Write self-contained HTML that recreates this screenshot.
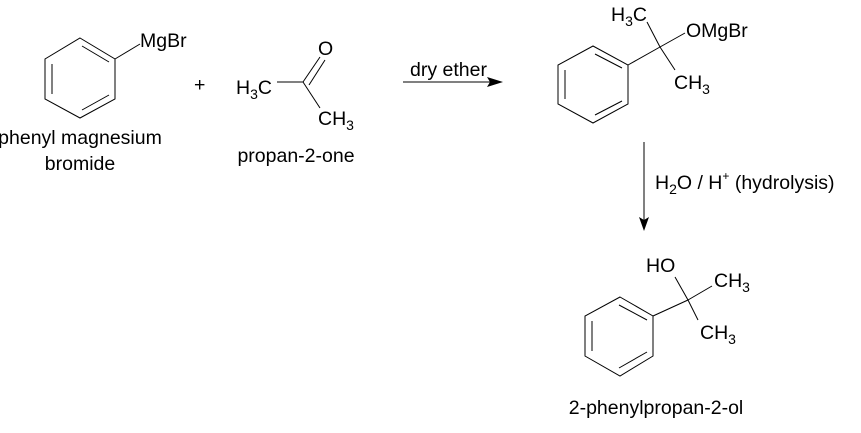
<!DOCTYPE html>
<html><head><meta charset="utf-8"><style>
html,body{margin:0;padding:0;background:#fff;}
svg{display:block;}
text{font-family:"Liberation Sans",Arial,sans-serif;font-size:19.5px;fill:#000;}
</style></head><body>
<svg width="861" height="433" viewBox="0 0 861 433" xmlns="http://www.w3.org/2000/svg">
<g stroke="#000" stroke-width="1" fill="none">
<polygon points="80,38 115,59 115,99 80,118 45,99 45,59"/>
<line x1="52" y1="64" x2="52" y2="94"/>
<line x1="82" y1="46" x2="109" y2="62"/>
<line x1="82" y1="110" x2="109" y2="95"/>
<line x1="115" y1="59" x2="140" y2="44"/>
<line x1="277" y1="82" x2="303" y2="82"/>
<line x1="303" y1="82" x2="320" y2="57"/>
<line x1="309" y1="85" x2="325" y2="60"/>
<line x1="303" y1="82" x2="320" y2="108"/>
<line x1="403" y1="82" x2="490" y2="82"/>
<polygon points="593,46 628,65 628,104 593,123 558,104 558,65"/>
<line x1="565" y1="70" x2="565" y2="99"/>
<line x1="595" y1="54" x2="622" y2="68"/>
<line x1="595" y1="115" x2="622" y2="101"/>
<line x1="628" y1="65" x2="660" y2="47"/>
<line x1="660" y1="47" x2="647" y2="22"/>
<line x1="660" y1="47" x2="685" y2="33"/>
<line x1="660" y1="47" x2="675" y2="70"/>
<line x1="644" y1="142" x2="644" y2="220"/>
<polygon points="620,297 653,316 653,356 620,376 585,356 585,316"/>
<line x1="592" y1="321" x2="592" y2="351"/>
<line x1="619" y1="305" x2="647" y2="320"/>
<line x1="619" y1="368" x2="647" y2="352"/>
<line x1="653" y1="316" x2="688" y2="300"/>
<line x1="688" y1="300" x2="675" y2="277"/>
<line x1="688" y1="300" x2="712" y2="286"/>
<line x1="688" y1="300" x2="698" y2="320"/>
</g>
<polygon points="503,82 487,77 490,82 487,87" fill="#000"/>
<polygon points="644,231 639,217 644,220 649,217" fill="#000"/>
<text x="140" y="47">MgBr</text>
<text x="194" y="91">+</text>
<text x="236" y="94">H<tspan font-size="14" dy="5">3</tspan><tspan dy="-5">C</tspan></text>
<text x="318" y="55">O</text>
<text x="318" y="125">CH<tspan font-size="14" dy="5">3</tspan></text>
<text x="80" y="144" text-anchor="middle">phenyl magnesium</text>
<text x="80" y="170" text-anchor="middle">bromide</text>
<text x="296" y="162" text-anchor="middle">propan-2-one</text>
<text x="410" y="76">dry ether</text>
<text x="611" y="21">H<tspan font-size="14" dy="5">3</tspan><tspan dy="-5">C</tspan></text>
<text x="686" y="37">OMgBr</text>
<text x="674" y="89">CH<tspan font-size="14" dy="5">3</tspan></text>
<text x="655" y="189">H<tspan font-size="14" dy="5">2</tspan><tspan dy="-5">O / H</tspan><tspan font-size="12" dy="-9">+</tspan><tspan dy="9"> (hydrolysis)</tspan></text>
<text x="646" y="272">HO</text>
<text x="714" y="287">CH<tspan font-size="14" dy="5">3</tspan></text>
<text x="700" y="339">CH<tspan font-size="14" dy="5">3</tspan></text>
<text x="656" y="414" text-anchor="middle">2-phenylpropan-2-ol</text>
</svg>
</body></html>
